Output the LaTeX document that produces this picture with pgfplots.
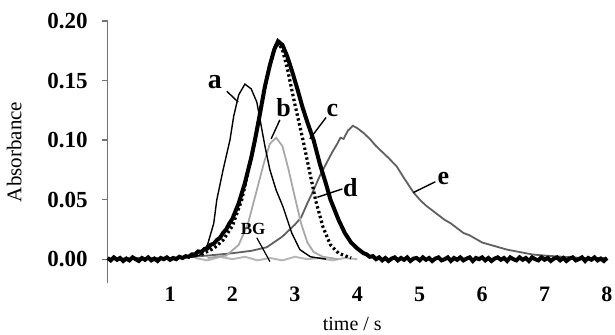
\documentclass[border=0pt]{standalone}
\usepackage{fontspec}
\setmainfont{Liberation Serif}
\usepackage{pgfplots}
\pgfplotsset{compat=1.18}
\definecolor{bgray}{HTML}{A8A8A8}
\definecolor{egray}{HTML}{606060}
\definecolor{bggray}{HTML}{B8B8B8}
\begin{document}
\begin{tikzpicture}
\path[use as bounding box] (-53.8pt,-26pt) rectangle (253.7pt,141.5pt);
\begin{axis}[
  at={(0,0)}, anchor=south west,
  scale only axis,
  width=249.7pt, height=131pt,
  xmin=0, xmax=8, ymin=-0.02, ymax=0.20,
  axis lines=left,
  x axis line style={draw=none},
  y axis line style={draw=black!55, line width=0.6pt, -},
  xtick={1,2,...,8},
  ytick={0,0.05,0.10,0.15,0.20},
  xtick style={draw=none},
  ytick style={draw=black!55, line width=0.6pt},
  tick align=outside,
  major tick length=3pt,
  /pgf/number format/assume math mode=true,
  yticklabel style={/pgf/number format/fixed, /pgf/number format/fixed zerofill, /pgf/number format/precision=2, font=\fontsize{11.5}{13}\selectfont\bfseries, xshift=-3.5pt},
  xticklabel style={font=\fontsize{11}{13}\selectfont\bfseries, yshift=4.5pt},
  scaled y ticks=false,
  ylabel={Absorbance},
  ylabel style={font=\fontsize{10.5}{12}\selectfont, at={(axis description cs:-0.158,0.5)}, anchor=south},
  xlabel={time / s},
  xlabel style={font=\fontsize{10}{12}\selectfont, at={(axis description cs:0.49,-0.155)}, anchor=center},
  clip=false,
]
% BG
\addplot[bggray, line width=1pt] coordinates {
(1.4,0.001)(1.6,-0.001)(1.8,0.002)(2.0,0.000)(2.2,0.002)(2.4,-0.001)(2.6,0.001)(2.8,-0.001)(3.0,0.002)(3.2,0.000)(3.4,0.001)(3.6,-0.001)(3.8,0.001)(4.0,0.000)
};
% e
\addplot[egray, line width=0.9pt] coordinates {
(0.0,0.000)(0.5,0.001)(1.0,0.001)(1.3,0.002)(1.6,0.003)(2.0,0.005)(2.3,0.007)(2.55,0.010)(2.8,0.019)(3.0,0.029)(3.1,0.035)(3.2,0.047)(3.3,0.058)(3.4,0.070)(3.5,0.080)(3.6,0.090)(3.68,0.097)(3.73,0.102)(3.78,0.101)(3.85,0.108)(3.93,0.112)(4.0,0.110)(4.1,0.106)(4.2,0.101)(4.3,0.095)(4.4,0.090)(4.5,0.085)(4.63,0.078)(4.75,0.068)(4.9,0.056)(5.0,0.050)(5.1,0.045)(5.2,0.041)(5.3,0.037)(5.4,0.033)(5.5,0.030)(5.6,0.026)(5.7,0.022)(5.8,0.020)(5.9,0.017)(6.0,0.014)(6.2,0.011)(6.4,0.008)(6.6,0.006)(6.8,0.004)(7.0,0.003)(7.3,0.002)(7.6,0.001)(8.0,0.001)
};
% b
\addplot[bgray, line width=0.9pt] coordinates {
(1.6,0.001)(1.9,0.003)(2.1,0.012)(2.25,0.030)(2.4,0.060)(2.5,0.080)(2.6,0.097)(2.7,0.102)(2.8,0.095)(2.9,0.075)(3.0,0.052)(3.1,0.030)(3.2,0.014)(3.3,0.006)(3.45,0.002)(3.7,0.000)
};
% a
\addplot[black, line width=0.7pt] coordinates {
(1.2,0.001)(1.4,0.002)(1.5,0.004)(1.6,0.012)(1.7,0.030)(1.75,0.050)(1.85,0.075)(1.96,0.100)(2.02,0.120)(2.1,0.138)(2.2,0.147)(2.3,0.143)(2.39,0.132)(2.45,0.115)(2.52,0.095)(2.6,0.075)(2.7,0.058)(2.81,0.044)(2.95,0.022)(3.08,0.008)(3.25,0.002)(3.5,0.000)
};
% d
\addplot[black, line width=1.6pt, dash pattern=on 1.2pt off 1.3pt] coordinates {
(1.5,0.004)(1.7,0.009)(1.85,0.016)(2.0,0.028)(2.15,0.050)(2.3,0.085)(2.4,0.110)(2.5,0.138)(2.6,0.163)(2.68,0.178)(2.74,0.181)(2.8,0.176)(2.88,0.160)(3.0,0.130)(3.13,0.100)(3.23,0.075)(3.33,0.050)(3.45,0.027)(3.57,0.012)(3.7,0.005)(3.9,0.001)
};
% c
\addplot[black, line width=2pt] coordinates {
(0.00,0.001)(0.05,-0.001)(0.10,0.0015)(0.15,-0.0005)(0.20,0.001)(0.25,-0.0015)(0.30,0.0005)(0.35,-0.001)(0.40,0.0015)(0.45,0.000)(0.50,-0.0015)(0.55,0.001)(0.60,-0.0005)(0.65,0.0015)(0.70,-0.001)(0.75,0.0005)(0.80,-0.0015)(0.85,0.001)(0.90,0.000)(0.95,0.0015)(1.00,-0.0005)(1.05,0.001)(1.10,0.000)(1.15,0.002)(1.20,0.001)(1.25,0.0025)(1.30,0.002)(1.35,0.004)(1.40,0.004)(1.45,0.0065)(1.5,0.006)(1.55,0.0085)(1.6,0.009)(1.65,0.012)(1.7,0.013)(1.75,0.016)(1.8,0.018)(1.85,0.022)(1.9,0.025)(1.95,0.030)(2.0,0.034)(2.1,0.047)(2.2,0.064)(2.3,0.085)(2.36,0.100)(2.44,0.122)(2.52,0.145)(2.6,0.163)(2.67,0.176)(2.73,0.183)(2.8,0.180)(2.88,0.170)(2.96,0.157)(3.04,0.143)(3.12,0.128)(3.2,0.115)(3.3,0.100)(3.4,0.080)(3.5,0.063)(3.57,0.050)(3.7,0.033)(3.8,0.022)(3.9,0.014)(4.0,0.009)(4.1,0.005)(4.15,0.004)(4.2,0.002)(4.25,0.0025)(4.30,0.000)(4.35,0.0015)(4.40,-0.001)(4.45,0.001)(4.50,-0.0015)(4.55,0.0005)(4.60,0.0015)(4.65,-0.001)(4.70,0.001)(4.75,-0.0005)(4.80,0.0015)(4.85,-0.0015)(4.90,0.0005)(4.95,0.001)(5.00,-0.001)(5.05,0.0015)(5.10,-0.0005)(5.15,0.001)(5.20,-0.0015)(5.25,0.0005)(5.30,0.0015)(5.35,-0.001)(5.40,0.000)(5.45,0.0015)(5.50,-0.0015)(5.55,0.001)(5.60,-0.0005)(5.65,0.0015)(5.70,-0.001)(5.75,0.0005)(5.80,0.0015)(5.85,-0.0015)(5.90,0.001)(5.95,0.000)(6.00,0.0015)(6.05,-0.001)(6.10,0.001)(6.15,-0.0015)(6.20,0.0005)(6.25,0.0015)(6.30,-0.0005)(6.35,0.001)(6.40,-0.0015)(6.45,0.0015)(6.50,0.000)(6.55,-0.001)(6.60,0.0015)(6.65,-0.0005)(6.70,0.001)(6.75,-0.0015)(6.80,0.0015)(6.85,0.000)(6.90,-0.001)(6.95,0.0015)(7.00,-0.0005)(7.05,0.001)(7.10,-0.0015)(7.15,0.0005)(7.20,0.0015)(7.25,-0.001)(7.30,0.001)(7.35,-0.0015)(7.40,0.0005)(7.45,0.0015)(7.50,-0.001)(7.55,0.000)(7.60,0.0015)(7.65,-0.0015)(7.70,0.001)(7.75,-0.0005)(7.80,0.0015)(7.85,-0.001)(7.90,0.0005)(7.95,-0.0015)(8.00,0.001)
};
% labels and leaders
\draw[black, line width=0.7pt] (axis cs:1.91,0.141) -- (axis cs:2.09,0.132);
\node[font=\fontsize{14}{16}\selectfont\bfseries] at (axis cs:1.72,0.149) {a};
\draw[black, line width=0.7pt] (axis cs:2.76,0.117) -- (axis cs:2.62,0.101);
\node[font=\fontsize{13}{15}\selectfont\bfseries] at (axis cs:2.82,0.127) {b};
\draw[black, line width=0.7pt] (axis cs:3.50,0.119) -- (axis cs:3.24,0.101);
\node[font=\fontsize{13}{15}\selectfont\bfseries] at (axis cs:3.60,0.125) {c};
\draw[black, line width=0.7pt] (axis cs:3.76,0.059) -- (axis cs:3.36,0.052);
\node[font=\fontsize{13}{15}\selectfont\bfseries] at (axis cs:3.89,0.060) {d};
\draw[black, line width=0.7pt] (axis cs:5.25,0.065) -- (axis cs:4.90,0.056);
\node[font=\fontsize{13}{15}\selectfont\bfseries] at (axis cs:5.38,0.068) {e};
\draw[black, line width=0.6pt] (axis cs:2.39,0.018) -- (axis cs:2.6,-0.002);
\node[font=\fontsize{8.5}{10}\selectfont\bfseries] at (axis cs:2.33,0.025) {BG};
\end{axis}
\end{tikzpicture}
\end{document}
